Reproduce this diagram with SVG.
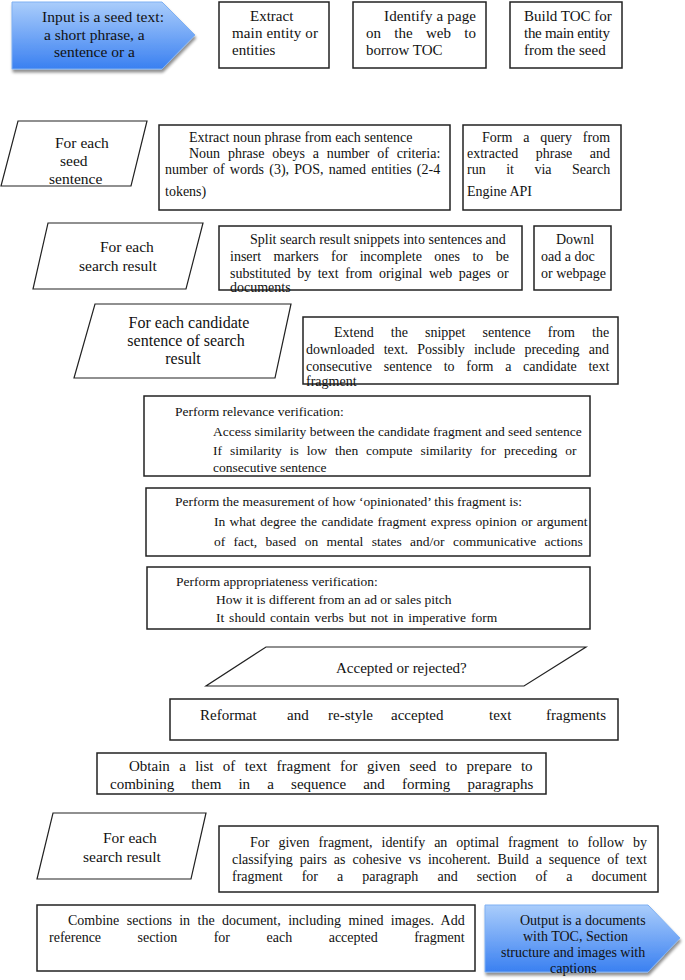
<svg xmlns="http://www.w3.org/2000/svg" width="685" height="980" viewBox="0 0 685 980">
<defs>
<linearGradient id="blue" x1="0" y1="0" x2="0" y2="1">
<stop offset="0" stop-color="#aacdfb"/>
<stop offset="1" stop-color="#3a80f1"/>
</linearGradient>
<filter id="shadow" x="-10%" y="-10%" width="125%" height="130%">
<feGaussianBlur in="SourceAlpha" stdDeviation="1.8"/>
<feOffset dx="1" dy="2.5" result="b"/>
<feComponentTransfer><feFuncA type="linear" slope="0.45"/></feComponentTransfer>
<feMerge><feMergeNode/><feMergeNode in="SourceGraphic"/></feMerge>
</filter>
</defs>
<style>
.box{fill:#fff;stroke:#222;stroke-width:1.5}
.para{fill:#fff;stroke:#222;stroke-width:1.2}
.arrow{fill:url(#blue);stroke:#7eb0f3;stroke-width:1;filter:url(#shadow)}
text{font-family:"Liberation Serif","Times New Roman",serif;fill:#111}
.t15{font-size:15px}
.t14{font-size:14px}
.t135{font-size:13.5px}
.tp{font-size:15.5px}
</style>
<rect width="685" height="980" fill="#fff"/>
<g id="connectors"/>

<g id="n-input">
<polygon class="arrow" points="12,2 162,2 195,35 162,69 12,69"/>
<text class="tp" x="42" y="22" textLength="122" lengthAdjust="spacing">Input is a seed text:</text>
<text class="tp" x="44" y="40">a short phrase, a</text>
<text class="tp" x="54" y="57">sentence or a</text>
</g>

<g id="n-extract-entity">
<rect class="box" x="219" y="2" width="110" height="66"/>
<text class="t15" x="250" y="21">Extract</text>
<text class="t15" x="232" y="38" textLength="86" lengthAdjust="spacing">main entity or</text>
<text class="t15" x="232" y="55">entities</text>
</g>

<g id="n-identify-page">
<rect class="box" x="353" y="2" width="133" height="66"/>
<text class="t15" x="384" y="21" textLength="92" lengthAdjust="spacing">Identify a page</text>
<text class="t15" x="366" y="38" word-spacing="9.6">on the web to</text>
<text class="t15" x="366" y="55">borrow TOC</text>
</g>

<g id="n-build-toc">
<rect class="box" x="510" y="2" width="112" height="66"/>
<text class="t15" x="524" y="21">Build TOC for</text>
<text class="t15" x="524" y="38" textLength="86" lengthAdjust="spacing">the main entity</text>
<text class="t15" x="524" y="55">from the seed</text>
</g>

<g id="n-each-seed">
<polygon class="para" points="18,121 147,121 131,186 1,186"/>
<text class="tp" x="55" y="148">For each</text>
<text class="tp" x="60" y="166">seed</text>
<text class="tp" x="49" y="184">sentence</text>
</g>

<g id="n-noun-phrase">
<rect class="box" x="159" y="125" width="291" height="85"/>
<text class="t14" x="189" y="142">Extract noun phrase from each sentence</text>
<text class="t14" x="189" y="158" word-spacing="4.3">Noun phrase obeys a number of criteria:</text>
<text class="t14" x="165" y="174" word-spacing="1.7">number of words (3), POS, named entities (2-4</text>
<text class="t14" x="165" y="196">tokens)</text>
</g>

<g id="n-form-query">
<rect class="box" x="463" y="125" width="158" height="85"/>
<text class="t14" x="482" y="142" word-spacing="7.3">Form a query from</text>
<text class="t14" x="467" y="158" word-spacing="14">extracted phrase and</text>
<text class="t14" x="467" y="174" word-spacing="17">run it via Search</text>
<text class="t14" x="467" y="196">Engine API</text>
</g>

<g id="n-each-result-1">
<polygon class="para" points="48,223 203,223 186,289 33,289"/>
<text class="tp" x="100" y="252">For each</text>
<text class="tp" x="79" y="271">search result</text>
</g>

<g id="n-split">
<rect class="box" x="219" y="226" width="303" height="64"/>
<text class="t14" x="250" y="244">Split search result snippets into sentences and</text>
<text class="t14" x="230" y="261" word-spacing="8.9">insert markers for incomplete ones to be</text>
<text class="t14" x="230" y="278" word-spacing="3">substituted by text from original web pages or</text>
<text class="t14" x="230" y="292">documents</text>
</g>

<g id="n-download">
<rect class="box" x="534" y="226" width="77" height="64"/>
<text class="t14" x="556" y="244">Downl</text>
<text class="t14" x="541" y="261">oad a doc</text>
<text class="t14" x="541" y="278">or webpage</text>
</g>

<g id="n-each-candidate">
<polygon class="para" points="95,304 291,304 275,378 74,378"/>
<text style="font-size:16px" x="189" y="328" text-anchor="middle">For each candidate</text>
<text style="font-size:16px" x="186" y="346" text-anchor="middle">sentence of search</text>
<text style="font-size:16px" x="183" y="364" text-anchor="middle">result</text>
</g>

<g id="n-extend">
<rect class="box" x="303" y="317" width="315" height="67"/>
<text class="t14" x="334" y="337" word-spacing="13.6">Extend the snippet sentence from the</text>
<text class="t14" x="306" y="354" word-spacing="5.7">downloaded text. Possibly include preceding and</text>
<text class="t14" x="306" y="371" word-spacing="8.2">consecutive sentence to form a candidate text</text>
<text class="t14" x="306" y="386">fragment</text>
</g>

<g id="n-relevance">
<rect class="box" x="144" y="396" width="446" height="80"/>
<text class="t135" x="175" y="416">Perform relevance verification:</text>
<text class="t135" x="213" y="436">Access similarity between the candidate fragment and seed sentence</text>
<text class="t135" x="213" y="455" word-spacing="4.6">If similarity is low then compute similarity for preceding or</text>
<text class="t135" x="213" y="472">consecutive sentence</text>
</g>

<g id="n-opinionated">
<rect class="box" x="146" y="488" width="444" height="68"/>
<text class="t135" x="175" y="506">Perform the measurement of how ‘opinionated’ this fragment is:</text>
<text class="t135" x="214" y="526" word-spacing="1">In what degree the candidate fragment express opinion or argument</text>
<text class="t135" x="214" y="546" word-spacing="5">of fact, based on mental states and/or communicative actions</text>
</g>

<g id="n-appropriateness">
<rect class="box" x="147" y="567" width="443" height="62"/>
<text class="t135" x="176" y="586">Perform appropriateness verification:</text>
<text class="t135" x="216" y="604">How it is different from an ad or sales pitch</text>
<text class="t135" x="216" y="622" word-spacing="1.5">It should contain verbs but not in imperative form</text>
</g>

<g id="n-accepted">
<polygon class="para" points="266,647 586,647 524,686 206,686"/>
<text class="t15" x="336" y="673">Accepted or rejected?</text>
</g>

<g id="n-reformat">
<rect class="box" x="170" y="699" width="448" height="41"/>
<text class="t15" y="720"><tspan x="200">Reformat</tspan><tspan x="287">and</tspan><tspan x="328">re-style</tspan><tspan x="391">accepted</tspan><tspan x="489">text</tspan><tspan x="546">fragments</tspan></text>
</g>

<g id="n-obtain">
<rect class="box" x="97" y="753" width="449" height="41"/>
<text class="t15" x="129" y="771" word-spacing="5.6">Obtain a list of text fragment for given seed to prepare to</text>
<text class="t15" x="110" y="789" word-spacing="13.4">combining them in a sequence and forming paragraphs</text>
</g>

<g id="n-each-result-2">
<polygon class="para" points="53,813 206,813 191,879 37,879"/>
<text class="tp" x="103" y="843">For each</text>
<text class="tp" x="83" y="862">search result</text>
</g>

<g id="n-sequence">
<rect class="box" x="219" y="826" width="439" height="66"/>
<text class="t14" x="250" y="847" word-spacing="5.5">For given fragment, identify an optimal fragment to follow by</text>
<text class="t14" x="232" y="864" word-spacing="3.5">classifying pairs as cohesive vs incoherent. Build a sequence of text</text>
<text class="t14" x="232" y="881" word-spacing="15.6">fragment for a paragraph and section of a document</text>
</g>

<g id="n-combine">
<rect class="box" x="37" y="905" width="438" height="66"/>
<text class="t14" x="68" y="925" word-spacing="3.9">Combine sections in the document, including mined images. Add</text>
<text class="t14" x="49" y="942" word-spacing="33">reference section for each accepted fragment</text>
</g>

<g id="n-output">
<polygon class="arrow" points="485,905 648,905 680,938 648,972 485,972"/>
<text class="t14" x="520" y="925">Output is a documents</text>
<text class="t14" x="523" y="941">with TOC, Section</text>
<text class="t14" x="501" y="957">structure and  images with</text>
<text class="t14" x="550" y="973">captions</text>
</g>
</svg>
